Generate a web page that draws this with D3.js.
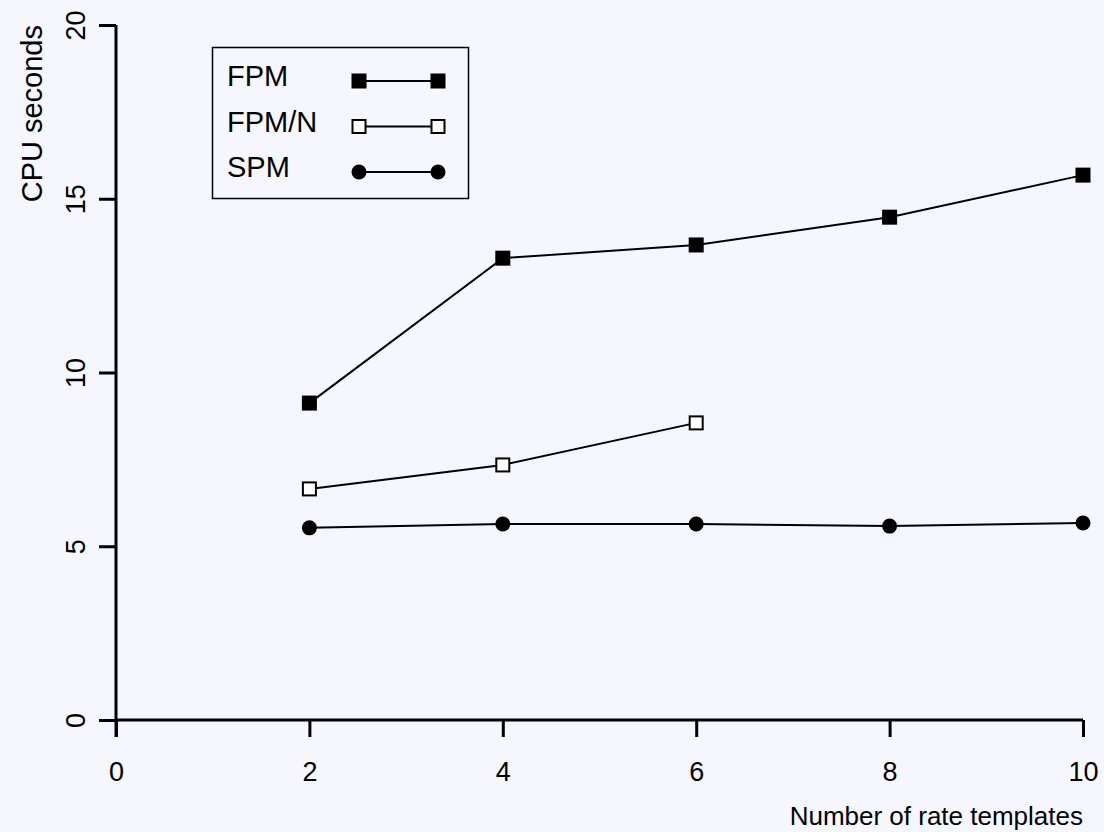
<!DOCTYPE html>
<html>
<head>
<meta charset="utf-8">
<script src="https://cdn.jsdelivr.net/npm/d3@7"></script>
<style>
  body { margin: 0; background: #f5f6fe; }
  svg { display: block; font-family: 'Liberation Sans', Arial, sans-serif; }
</style>
</head>
<body>
<div id="chart"></div>
<script>
const templates = [2, 4, 6, 8, 10];
const fpm = [9.12, 13.29, 13.67, 14.47, 15.68];
const fpmN = [6.65, 7.34, 8.55];
const spm = [5.53, 5.64, 5.64, 5.58, 5.67];
const seriesNames = ['FPM', 'FPM/N', 'SPM'];
const xTicks = [0, 2, 4, 6, 8, 10];
const yTicks = [0, 5, 10, 15, 20];

const width = 1104, height = 832;
const fontSize = 27;
const svg = d3.select('#chart').append('svg')
    .attr('width', width)
    .attr('height', height);

svg.append('rect')
    .attr('width', width)
    .attr('height', height)
    .attr('fill', '#f5f6fe');

const x = d3.scaleLinear().domain([0, 10]).range([116, 1083]);
const y = d3.scaleLinear().domain([0, 20]).range([720, 25]);

// axes
const xAxis = svg.append('g')
    .attr('transform', 'translate(0,720)')
    .call(d3.axisBottom(x).tickValues(xTicks).tickSize(17).tickFormat(d3.format('d')));
xAxis.select('.domain').attr('d', 'M' + x(0) + ',0H' + x(10));
xAxis.selectAll('.tick text')
    .attr('font-size', fontSize).attr('fill', '#000')
    .attr('dy', null).attr('y', 61)
    .style('font-family', "'Liberation Sans', Arial, sans-serif");

const yAxis = svg.append('g')
    .attr('transform', 'translate(116,0)')
    .call(d3.axisLeft(y).tickValues(yTicks).tickSize(17).tickFormat(d3.format('d')));
yAxis.select('.domain').attr('d', 'M0,' + y(20) + 'V737');
yAxis.selectAll('.tick text')
    .attr('font-size', fontSize).attr('fill', '#000')
    .style('font-family', "'Liberation Sans', Arial, sans-serif")
    .attr('x', null).attr('dy', null).attr('y', null)
    .attr('text-anchor', 'middle')
    .attr('transform', 'translate(-31,0) rotate(-90)');
svg.selectAll('.domain').attr('stroke', '#000').attr('stroke-width', 3);
svg.selectAll('.tick line').attr('stroke', '#000').attr('stroke-width', 3);

// axis titles
svg.append('text')
    .attr('transform', 'translate(42,25) rotate(-90)')
    .attr('text-anchor', 'end')
    .attr('font-size', 29)
    .text('CPU seconds');
svg.append('text')
    .attr('x', 1083).attr('y', 825)
    .attr('text-anchor', 'end')
    .attr('font-size', 26)
    .text('Number of rate templates');

// series
const line = d3.line().x(d => x(d[0])).y(d => y(d[1]));
const series = [
  { name: seriesNames[0], pts: templates.map((t, i) => [t, fpm[i]]), shape: 'fsq' },
  { name: seriesNames[1], pts: fpmN.map((v, i) => [templates[i], v]), shape: 'osq' },
  { name: seriesNames[2], pts: templates.map((t, i) => [t, spm[i]]), shape: 'dot' }
];

function marker(g, shape, cx, cy) {
  if (shape === 'fsq') {
    g.append('rect').attr('x', cx - 7.5).attr('y', cy - 7.5)
        .attr('width', 15).attr('height', 15).attr('fill', '#000');
  } else if (shape === 'osq') {
    g.append('rect').attr('x', cx - 6.5).attr('y', cy - 6.5)
        .attr('width', 13).attr('height', 13)
        .attr('fill', '#fff').attr('stroke', '#000').attr('stroke-width', 2);
  } else {
    g.append('circle').attr('cx', cx).attr('cy', cy).attr('r', 7.5).attr('fill', '#000');
  }
}

series.forEach(s => {
  const g = svg.append('g');
  g.append('path').datum(s.pts)
      .attr('d', line)
      .attr('fill', 'none')
      .attr('stroke', '#000')
      .attr('stroke-width', 2);
  s.pts.forEach(p => marker(g, s.shape, x(p[0]), y(p[1])));
});

// legend
const legend = svg.append('g');
legend.append('rect')
    .attr('x', 212.5).attr('y', 47.5)
    .attr('width', 256).attr('height', 151)
    .attr('fill', 'none').attr('stroke', '#000').attr('stroke-width', 1.5);
series.forEach((s, i) => {
  const ly = 81 + i * 45.5;
  legend.append('text')
      .attr('x', 227).attr('y', ly + 5)
      .attr('font-size', 29)
      .text(s.name);
  legend.append('line')
      .attr('x1', 359).attr('x2', 438)
      .attr('y1', ly).attr('y2', ly)
      .attr('stroke', '#000').attr('stroke-width', 2);
  marker(legend, s.shape, 359, ly);
  marker(legend, s.shape, 438, ly);
});
</script>
</body>
</html>
